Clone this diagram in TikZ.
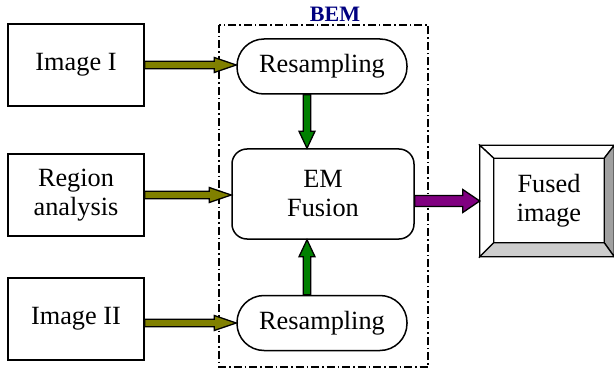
\documentclass[tikz,border=0pt]{standalone}
\usepackage{fontspec}
\setmainfont{Liberation Serif}
\usetikzlibrary{calc}
\definecolor{olivearr}{RGB}{128,128,0}
\definecolor{greenarr}{RGB}{0,128,0}
\definecolor{purplearr}{RGB}{128,0,128}
\definecolor{bemnavy}{RGB}{0,0,128}
\definecolor{bevdark}{RGB}{160,160,160}
\definecolor{bevlight}{RGB}{205,205,205}
\newcommand\blockarrow[6]{% #1 color, #2 from, #3 to, #4 shaft half, #5 head half, #6 head length
  \coordinate (ba-hb) at ($(#3)!#6!(#2)$);
  \draw[blockarr, fill=#1] ($(#2)!#4!90:(#3)$) -- ($(ba-hb)!#4!90:(#3)$) -- ($(ba-hb)!#5!90:(#3)$) -- (#3)
    -- ($(ba-hb)!#5!-90:(#3)$) -- ($(ba-hb)!#4!-90:(#3)$) -- ($(#2)!#4!-90:(#3)$) -- cycle;}
\tikzset{
  inbox/.style={draw, line width=1.5pt, minimum width=136pt, minimum height=82pt, align=center, inner sep=0pt},
  pill/.style={draw, line width=1.5pt, rounded corners=27pt, minimum width=170pt, minimum height=55pt, inner sep=0pt},
  embox/.style={draw, line width=1.5pt, rounded corners=15pt, minimum width=182pt, minimum height=90pt, align=center, inner sep=0pt},
  outbox/.style={draw, line width=1.5pt, minimum width=133pt, minimum height=110pt, inner sep=0pt},
  blockarr/.style={draw=black, line width=1.3pt, line join=miter},
  bemframe/.style={draw, line width=1.5pt, dash pattern=on 8pt off 3pt on 1.5pt off 3pt},
  bemlabel/.style={text=bemnavy, font=\fontsize{22}{24}\selectfont\bfseries, inner sep=0pt},
  bevel/.style={draw, line width=1.3pt, line join=miter}
}
\begin{document}
\begin{tikzpicture}[x=1pt, y=-1pt, font=\fontsize{26.3}{29}\selectfont]
\useasboundingbox (0,0) rectangle (614,369);
% BEM frame
\draw[bemframe] (219,25) rectangle (428,367);
\node[bemlabel] (bem) at (335,14) {BEM};
% left boxes
\node[inbox] (img1) at (76,65) {Image I};
\node[inbox] (region) at (76,195) {Region\\analysis};
\node[inbox] (img2) at (76,319) {Image II};
% inner nodes
\node[pill] (res1) at (322,66.5) {Resampling};
\node[pill] (res2) at (322,323) {Resampling};
\node[embox] (em) at (323,194) {EM\\Fusion};
% fused image (bevelled)
\node[outbox] (fused) at (547,201) {};
\coordinate (o1) at (fused.north west);
\coordinate (o2) at (fused.north east);
\coordinate (o3) at (fused.south east);
\coordinate (o4) at (fused.south west);
\coordinate (i1) at ($(o1)+(14,13)$);
\coordinate (i2) at ($(o2)+(-10,13)$);
\coordinate (i3) at ($(o3)+(-10,-14)$);
\coordinate (i4) at ($(o4)+(14,-14)$);
\draw[bevel, fill=white] (o1) -- (o2) -- (i2) -- (i1) -- cycle;
\draw[bevel, fill=white] (o1) -- (i1) -- (i4) -- (o4) -- cycle;
\draw[bevel, fill=bevdark] (o2) -- (o3) -- (i3) -- (i2) -- cycle;
\draw[bevel, fill=bevlight] (o4) -- (i4) -- (i3) -- (o3) -- cycle;
\node[align=center, inner sep=0pt] (fusedtxt) at ($(i1)!0.5!(i3)$) {Fused\\image};
% olive arrows
\coordinate (a1e) at (img1.east -| res1.west);
\blockarrow{olivearr}{img1.east}{a1e}{3.8pt}{7.5pt}{22pt}
\coordinate (a2e) at (region.east -| em.west);
\blockarrow{olivearr}{region.east}{a2e}{3.8pt}{7.5pt}{22pt}
\coordinate (a3s) at (img2.east |- res2.west);
\blockarrow{olivearr}{a3s}{res2.west}{3.8pt}{7.5pt}{22pt}
% green arrows
\coordinate (g1s) at ($(res1.south)+(-15,0)$);
\coordinate (g1e) at (g1s |- em.north);
\blockarrow{greenarr}{g1s}{g1e}{3.8pt}{8pt}{17pt}
\coordinate (g2s) at ($(res2.north)+(-15,0)$);
\coordinate (g2e) at (g2s |- em.south);
\blockarrow{greenarr}{g2s}{g2e}{3.8pt}{8pt}{17pt}
% purple arrow
\coordinate (ps) at (em.east |- fused.west);
\blockarrow{purplearr}{ps}{fused.west}{5.5pt}{11.5pt}{17pt}
\end{tikzpicture}
\end{document}
